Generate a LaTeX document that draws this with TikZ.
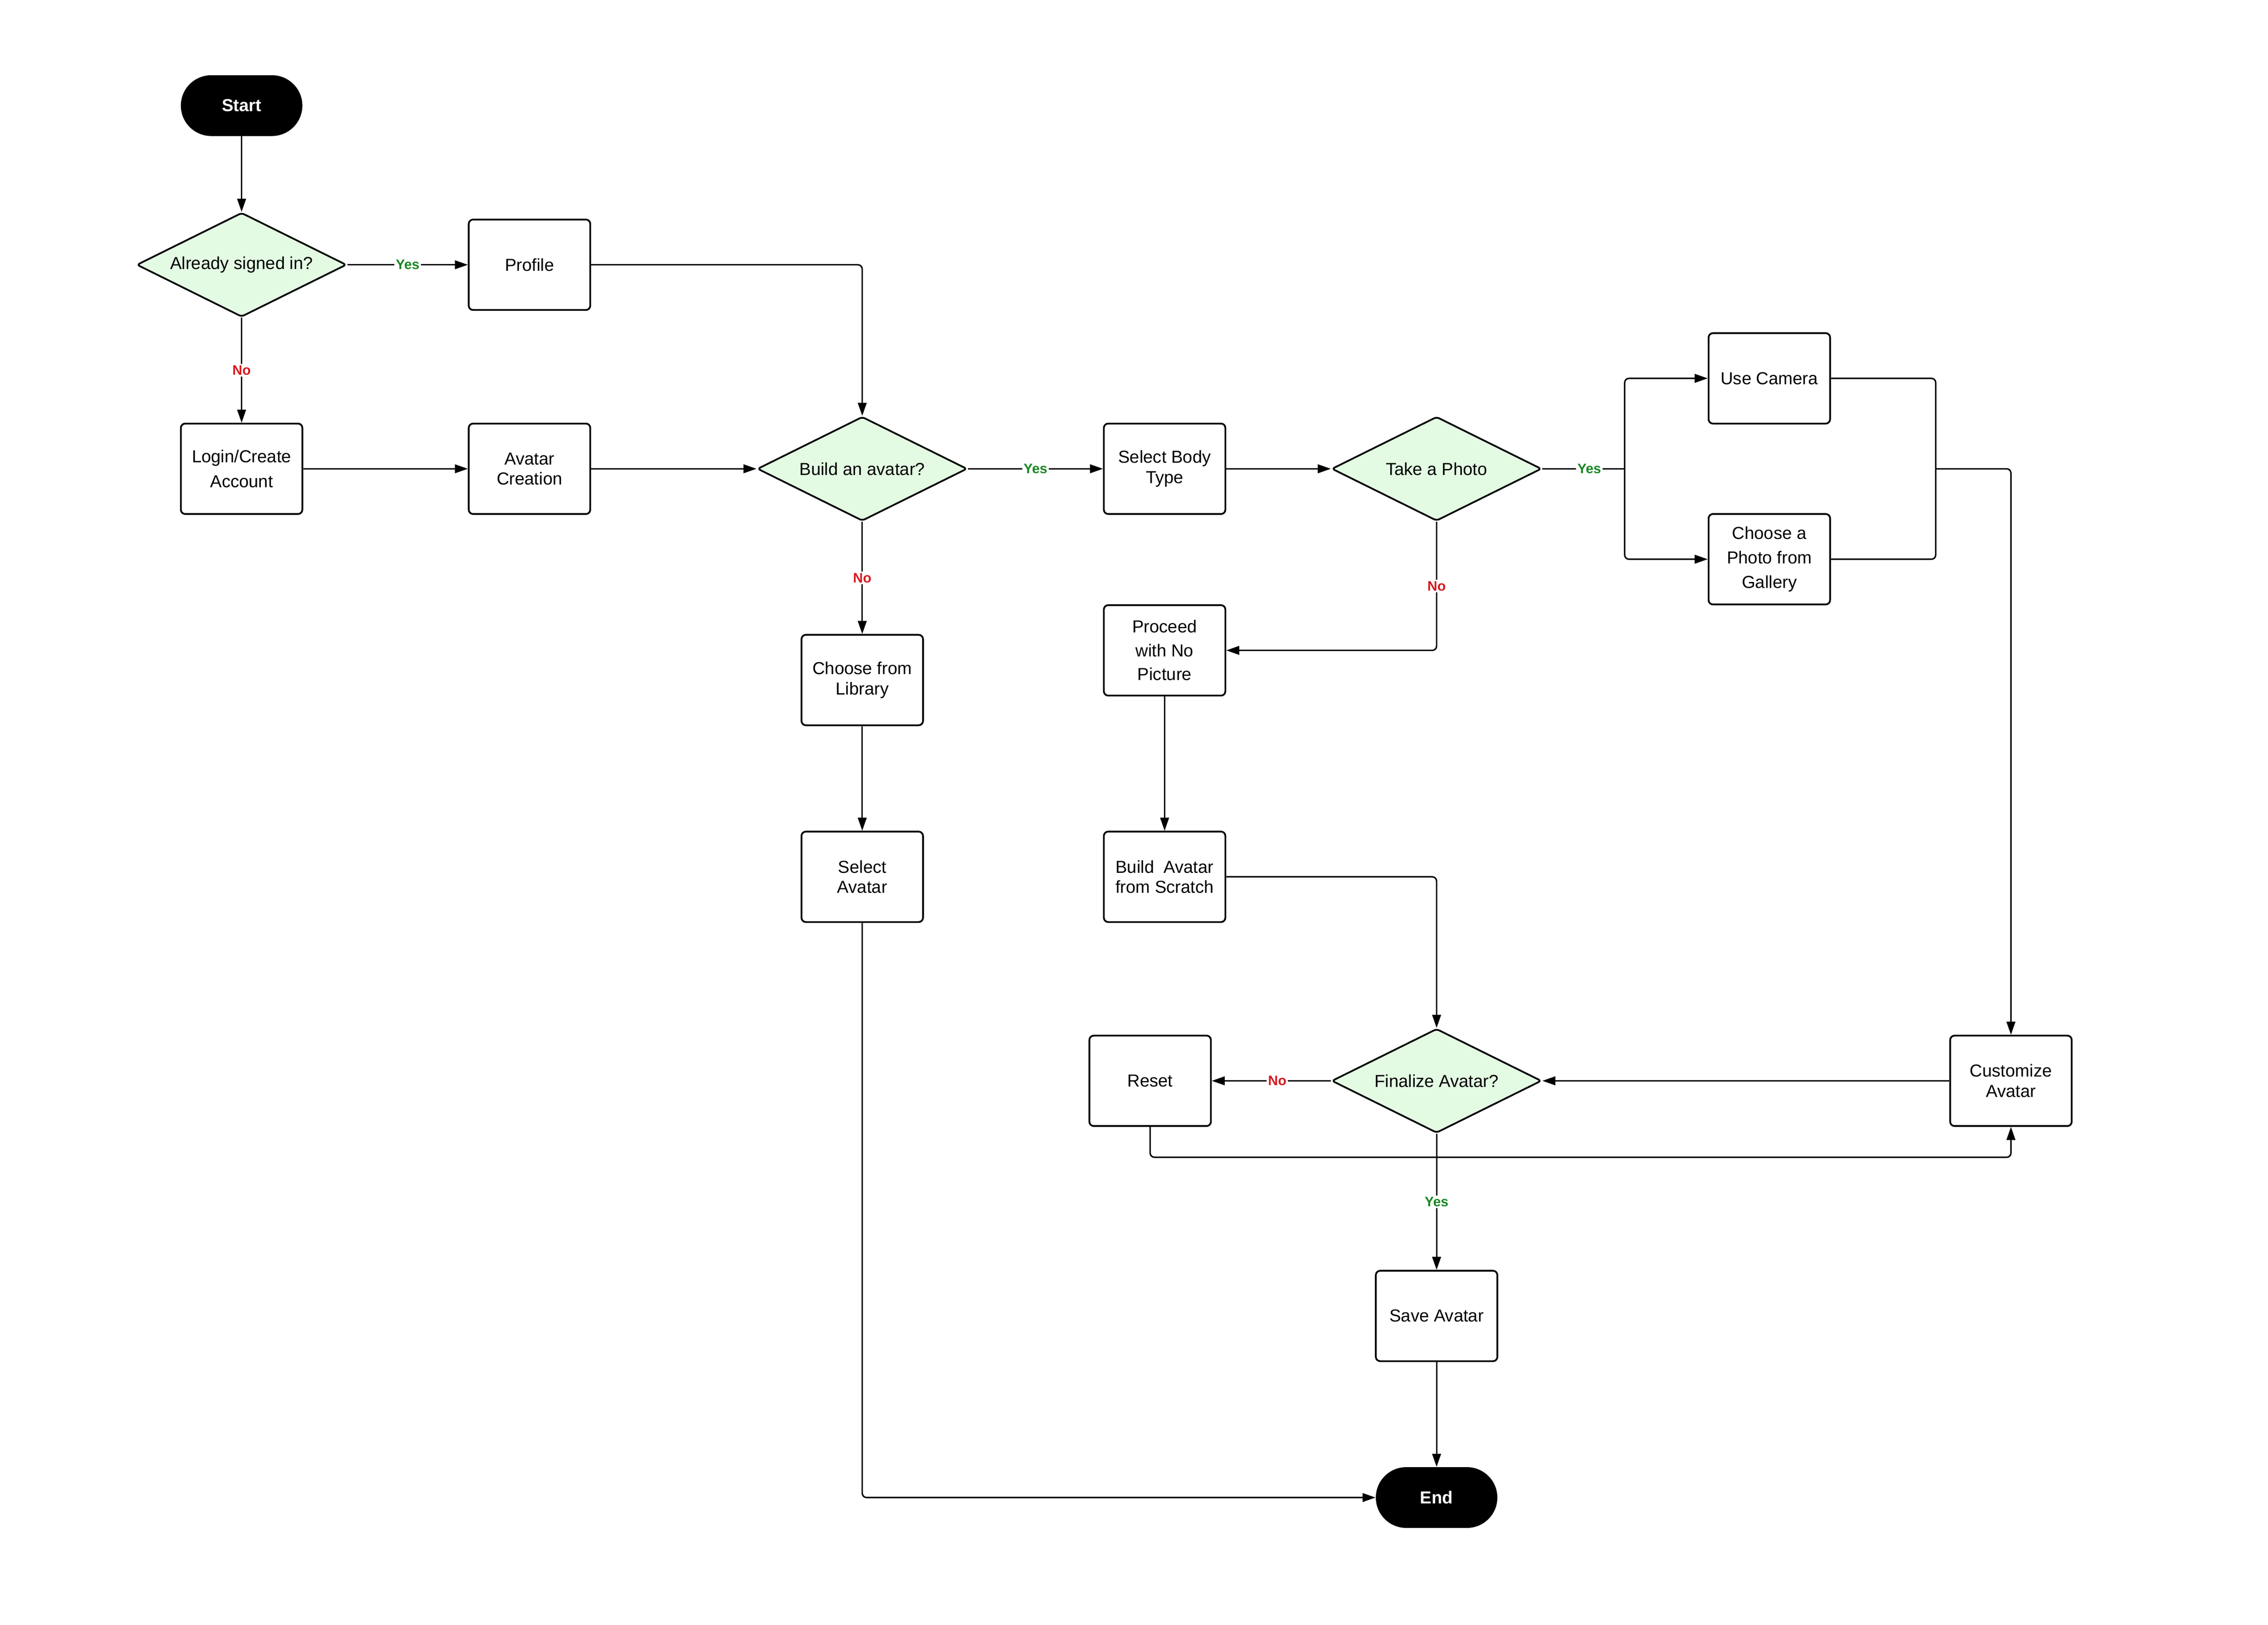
\documentclass[tikz,border=0pt]{standalone}
\usepackage{fontspec}
\setmainfont{Liberation Sans}
\usetikzlibrary{shapes.geometric,arrows.meta}
\definecolor{dfill}{RGB}{227,250,227}
\definecolor{yesc}{RGB}{25,135,35}
\definecolor{noc}{RGB}{215,25,30}
\begin{document}
\begin{tikzpicture}[x=1pt,y=-1pt,
  box/.style={draw, line width=1.2pt, rounded corners=3pt, minimum width=84pt, minimum height=62.5pt, inner sep=2pt, align=center, font=\fontsize{12}{14}\selectfont},
  dec/.style={draw, diamond, fill=dfill, line width=1.2pt, rounded corners=2pt, minimum width=145pt, minimum height=72pt, inner sep=0pt, aspect=2, font=\fontsize{12}{14}\selectfont},
  term/.style={fill=black, rounded corners=21pt, minimum width=84pt, minimum height=42pt, text=white, font=\fontsize{12}{14}\selectfont\bfseries},
  conn/.style={line width=1pt, rounded corners=3pt, -{Triangle[length=9pt,width=6pt]}},
  plain/.style={line width=1pt, rounded corners=3pt},
  yes/.style={fill=white, inner sep=1pt, text=yesc, font=\fontsize{9.5}{10}\selectfont\bfseries},
  no/.style={fill=white, inner sep=1pt, text=noc, font=\fontsize{9.5}{10}\selectfont\bfseries}]
\useasboundingbox (0,0) rectangle (1567.7,1122.9);
% nodes
\node[term] (start) at (167,73) {Start};
\node[dec] (d1) at (167,183) {Already signed in?};
\node[box] (profile) at (366,183) {Profile};
\node[box] (login) at (167,324) {Login/Create\\[3pt]Account};
\node[box] (avc) at (366,324) {Avatar\\Creation};
\node[dec] (d2) at (596,324) {Build an avatar?};
\node[box] (sbt) at (805,324) {Select Body\\Type};
\node[dec] (d3) at (993,324) {Take a Photo};
\node[box] (cam) at (1223,261.5) {Use Camera};
\node[box] (gal) at (1223,386.5) {Choose a\\[3pt]Photo from\\[3pt]Gallery};
\node[box] (lib) at (596,470) {Choose from\\Library};
\node[box] (proceed) at (805,449.5) {Proceed\\[2.5pt]with No\\[2.5pt]Picture};
\node[box] (selav) at (596,606) {Select\\Avatar};
\node[box] (scratch) at (805,606) {Build\ \ Avatar\\from Scratch};
\node[dec] (d4) at (993,747) {Finalize Avatar?};
\node[box] (reset) at (795,747) {Reset};
\node[box] (cust) at (1390,747) {Customize\\Avatar};
\node[box] (save) at (993,909.5) {Save Avatar};
\node[term] (end) at (993,1035) {End};
\coordinate (j1) at (1123,324);
\coordinate (j2) at (1338,324);
% connectors
\draw[conn] (start) -- (d1);
\draw[conn] (d1) -- node[yes]{Yes} (profile);
\draw[conn] (d1) -- node[no]{No} (login);
\draw[conn] (profile.east) -| (d2.north);
\draw[conn] (login) -- (avc);
\draw[conn] (avc) -- (d2);
\draw[conn] (d2) -- node[yes]{Yes} (sbt);
\draw[conn] (d2) -- node[no]{No} (lib);
\draw[conn] (lib) -- (selav);
\draw[conn] (sbt) -- (d3);
\draw[plain] (d3.east) -- node[yes,pos=0.57]{Yes} (j1);
\draw[conn] (j1) |- (cam.west);
\draw[conn] (j1) |- (gal.west);
\draw[conn] (d3.south) |- node[no,pos=0.25]{No} (proceed.east);
\draw[conn] (proceed) -- (scratch);
\draw[conn] (scratch.east) -| (d4.north);
\draw[plain] (cam.east) -| (j2);
\draw[plain] (gal.east) -| (j2);
\draw[conn] (j2) -| (cust.north);
\draw[conn] (cust) -- (d4);
\draw[conn] (d4) -- node[no,pos=0.45]{No} (reset);
\draw[conn] (reset.south) -- ++(0,21) -| (cust.south);
\draw[conn] (d4) -- node[yes]{Yes} (save);
\draw[conn] (save) -- (end);
\draw[conn] (selav.south) |- (end.west);
\end{tikzpicture}
\end{document}
